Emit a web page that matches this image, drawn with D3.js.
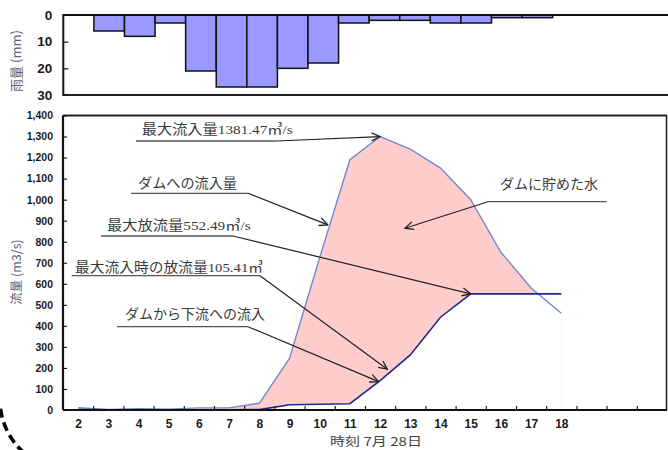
<!DOCTYPE html>
<html><head><meta charset="utf-8">
<script src="https://cdn.jsdelivr.net/npm/d3@7"></script>
<style>body{margin:0;background:#fff}svg{display:block}</style>
</head><body><svg id="c" width="668" height="450"></svg>
<script>
// ---- data ----
const hours = [2,3,4,5,6,7,8,9,10,11,12,13,14,15,16,17,18];
const slots = [2,3,4,5,6,7,8,9,10,11,12,13,14,15,16,17,18,19,20,21];
const rainfall = [0,6,8,3,21,27,27,20,18,3,2,2,3,3,1,1,0];
const inflow  = [11,3,6,4,10,10,32,245,725,1190,1300,1240,1150,1000,750,580,460];
const outflow = [2,1,1,1,1,1,2,25,27,30,140,262,441,552,552,552,552];
const flowTicks = [0,100,200,300,400,500,600,700,800,900,1000,1100,1200,1300,1400];
const rainTicks = [0,10,20,30];
const rainTitle = "雨量 (mm)";
const flowTitle = "流量 (m3/s)";
const xTitle = "時刻  7月 28日";
const annTexts = ["最大流入量1381.47㎥/s","ダムへの流入量","最大放流量552.49㎥/s","最大流入時の放流量105.41㎥","ダムから下流への流入","ダムに貯めた水"];
const annTipHour  = [12, 10.27, 15, 12.24, 11.95, 12.82];
const annTipValue = [1300, 880, 552, 194, 135, 864];

// ---- layout ----
const annLayout = [
  {x:141.7, y:133.5, w:151,   u1:136,   u2:276.7, uy:141,   from:"right"},
  {x:138,   y:187.5, w:99,    u1:131,   u2:248,   uy:193.3, from:"right"},
  {x:107,   y:229.5, w:143.7, u1:101,   u2:233,   uy:236,   from:"right"},
  {x:75,    y:271.5, w:188,   u1:71.7,  u2:260,   uy:275.7, from:"right"},
  {x:125,   y:319,   w:140,   u1:117,   u2:248,   uy:326.7, from:"right"},
  {x:500,   y:189,   w:98,    u1:488,   u2:606.7, uy:201.7, from:"left"}
];
const svg = d3.select("#c");
const annFont = "'Liberation Serif','Noto Sans CJK JP',serif";
const tickFont = "'Liberation Sans',Arial,sans-serif";

svg.append("defs").append("marker")
  .attr("id","arr").attr("markerUnits","userSpaceOnUse")
  .attr("viewBox","0 0 10 10").attr("refX",9.5).attr("refY",5)
  .attr("markerWidth",10).attr("markerHeight",10).attr("orient","auto")
  .append("path").attr("d","M1,1 L9.5,5 L1,9").attr("fill","none")
  .attr("stroke","#222").attr("stroke-width",1.3);

// ---- top rainfall chart ----
const T = {l:63.3, r:675, t:15, b:95};
const xTop = d3.scaleBand().domain(slots).range([T.l, T.r]).padding(0);
const yTop = d3.scaleLinear().domain([0,30]).range([T.t, T.b]);
const gTop = svg.append("g");
gTop.selectAll("rect.bar").data(hours.map((h,i)=>({h, v:rainfall[i]})).filter(d=>d.v>0))
  .join("rect").attr("class","bar")
  .attr("x", d=>xTop(d.h)).attr("y", yTop(0))
  .attr("width", xTop.bandwidth()).attr("height", d=>yTop(d.v)-yTop(0))
  .attr("fill","#9999ff").attr("stroke","#111").attr("stroke-width",1.5);
gTop.append("line").attr("x1",T.l).attr("x2",668).attr("y1",T.t).attr("y2",T.t).attr("stroke","#111").attr("stroke-width",2);
gTop.append("line").attr("x1",T.l).attr("x2",668).attr("y1",T.b).attr("y2",T.b).attr("stroke","#222").attr("stroke-width",2);
const yAxTop = d3.axisLeft(yTop).tickValues(rainTicks).tickSizeInner(-5).tickSizeOuter(0).tickPadding(11);
const gyT = gTop.append("g").attr("transform",`translate(${T.l},0)`).call(yAxTop);
gyT.select(".domain").remove();
gyT.selectAll(".tick line").attr("stroke","#111").attr("stroke-width",1.2)
  .filter(d=>d===0||d===30).remove();
gyT.selectAll("text").attr("font-family",tickFont).attr("font-weight","bold").attr("font-size",13.5).attr("fill","#1a1a1a");
gTop.append("line").attr("x1",T.l).attr("x2",T.l).attr("y1",T.t-1).attr("y2",T.b+1).attr("stroke","#111").attr("stroke-width",2);
gTop.append("text").attr("transform",`translate(21,61) rotate(-90)`)
  .attr("text-anchor","middle").attr("font-family","'Noto Sans CJK JP',sans-serif")
  .attr("font-size",13).attr("fill","#5b6577").text(rainTitle);

// ---- bottom flow chart ----
const B = {l:63, r:667, t:115.5, b:410};
const xB = d3.scaleBand().domain(slots).range([B.l, B.r]).padding(0);
const xL = d3.scaleLinear().domain([1.5, 21.5]).range([B.l, B.r]);
const yB = d3.scaleLinear().domain([0,1400]).range([B.b, B.t]);
const cx = h => xB(h) + xB.bandwidth()/2;
const gB = svg.append("g");
const dIn = hours.map((h,i)=>({h, v:inflow[i]}));
const dOut = hours.map((h,i)=>({h, v:outflow[i]}));
const areaGen = d3.area().x(d=>cx(d.h)).y0(yB(0)).y1(d=>yB(d.v));
gB.append("path").datum(dIn).attr("d",areaGen).attr("fill","#ffcccc");
gB.append("path").datum(dOut).attr("d",areaGen).attr("fill","#ffffff");
const lineGen = d3.line().x(d=>cx(d.h)).y(d=>yB(d.v));
gB.append("path").datum(dIn).attr("d",lineGen).attr("fill","none").attr("stroke","#7288d0").attr("stroke-width",1.4);
gB.append("path").datum(dOut).attr("d",lineGen).attr("fill","none").attr("stroke","#1c2a8c").attr("stroke-width",1.6);

annTexts.forEach((t,i)=>{
  const L = annLayout[i];
  const g = gB.append("g");
  g.append("text").attr("x",L.x).attr("y",L.y).attr("font-family",annFont)
    .attr("font-size",13.5).attr("fill","#3a3a3a")
    .attr("textLength",L.w).attr("lengthAdjust","spacingAndGlyphs").text(t);
  g.append("line").attr("x1",L.u1).attr("x2",L.u2).attr("y1",L.uy).attr("y2",L.uy)
    .attr("stroke","#555").attr("stroke-width",1.3);
  const sx = L.from==="right" ? L.u2 : L.u1;
  g.append("line").attr("x1",sx).attr("y1",L.uy)
    .attr("x2",xL(annTipHour[i])).attr("y2",yB(annTipValue[i]))
    .attr("stroke","#222").attr("stroke-width",1.2).attr("marker-end","url(#arr)");
});

const yAxB = d3.axisLeft(yB).tickValues(flowTicks).tickSizeInner(-4).tickSizeOuter(0).tickPadding(10).tickFormat(d3.format(","));
const gyB = gB.append("g").attr("transform",`translate(${B.l},0)`).call(yAxB);
gyB.select(".domain").remove();
gyB.selectAll(".tick line").attr("stroke","#111").attr("stroke-width",1.1);
gyB.selectAll("text").attr("font-family",tickFont).attr("font-weight","bold").attr("font-size",10.5).attr("fill","#1a1a1a");

const xAxLab = d3.axisBottom(xL).tickValues(hours).tickSize(0).tickPadding(9).tickFormat(d3.format("d"));
const gxB = gB.append("g").attr("transform",`translate(0,${B.b})`).call(xAxLab);
gxB.select(".domain").remove();
gxB.selectAll("text").attr("font-family",tickFont).attr("font-weight","bold").attr("font-size",12).attr("fill","#1a1a1a");
const bounds = slots.slice(0,-1).map(h=>h+0.5);
const xAxTick = d3.axisBottom(xL).tickValues(bounds).tickSizeInner(-4).tickSizeOuter(0).tickFormat("");
const gxT = gB.append("g").attr("transform",`translate(0,${B.b})`).call(xAxTick);
gxT.select(".domain").remove();
gxT.selectAll(".tick line").attr("stroke","#111").attr("stroke-width",1.1);

// frame
gB.append("line").attr("x1",B.l).attr("x2",B.r).attr("y1",B.t).attr("y2",B.t).attr("stroke","#222").attr("stroke-width",1.8);
gB.append("line").attr("x1",B.r-0.5).attr("x2",B.r-0.5).attr("y1",B.t).attr("y2",B.b).attr("stroke","#222").attr("stroke-width",1.6);
gB.append("line").attr("x1",B.l).attr("x2",B.r).attr("y1",B.b).attr("y2",B.b).attr("stroke","#111").attr("stroke-width",2.2);
gB.append("line").attr("x1",B.l).attr("x2",B.l).attr("y1",B.t).attr("y2",B.b).attr("stroke","#111").attr("stroke-width",2.2);

gB.append("text").attr("transform",`translate(21,272) rotate(-90)`)
  .attr("text-anchor","middle").attr("font-family","'Noto Sans CJK JP',sans-serif")
  .attr("font-size",12.5).attr("fill","#5b6577").text(flowTitle);
gB.append("text").attr("x",330).attr("y",446).attr("font-family","'Noto Sans CJK JP',sans-serif")
  .attr("font-size",12).attr("fill","#444").attr("textLength",92).attr("lengthAdjust","spacingAndGlyphs").text(xTitle);

// decorative dashed arc (lower-left, from the source page)
const p = d3.path();
p.arc(70, 400, 70, Math.PI*0.96, Math.PI*0.69, true);
svg.append("path").attr("d",p.toString()).attr("fill","none").attr("stroke","#000")
  .attr("stroke-width",3.5).attr("stroke-dasharray","9,5");
</script></body></html>
